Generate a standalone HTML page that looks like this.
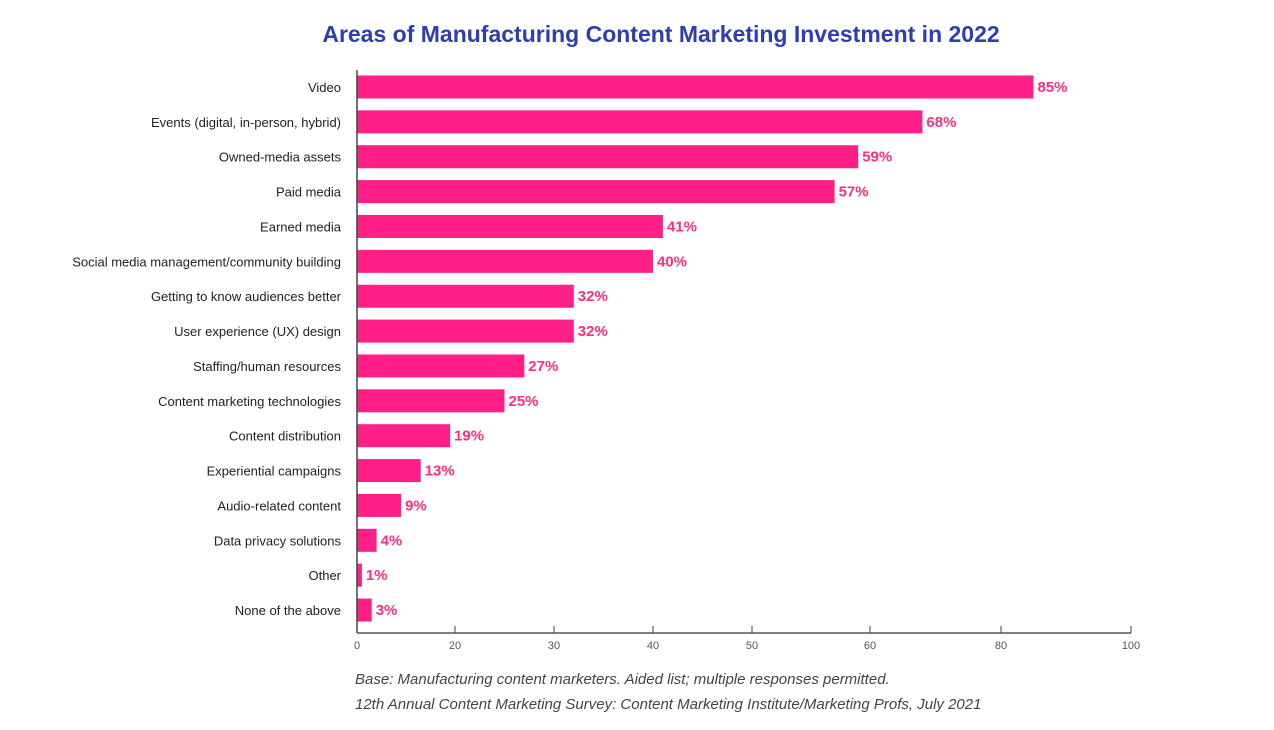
<!DOCTYPE html>
<html><head><meta charset="utf-8"><style>
body{margin:0;width:1274px;height:725px;background:#fff;overflow:hidden;font-family:"Liberation Sans",sans-serif}
</style></head><body>
<svg width="1274" height="725">
<text x="661" y="42" text-anchor="middle" font-size="23" font-weight="bold" fill="#2b3eb3">Areas of Manufacturing Content Marketing Investment in 2022</text>
<g id="bars"></g>
<g id="axis"></g>
<text x="355" y="684" font-size="15" font-style="italic" fill="#444">Base: Manufacturing content marketers. Aided list; multiple responses permitted.</text>
<text x="355" y="709" font-size="15" font-style="italic" fill="#444">12th Annual Content Marketing Survey: Content Marketing Institute/Marketing Profs, July 2021</text>
</svg>
<script>
const categories=["Video","Events (digital, in-person, hybrid)","Owned-media assets","Paid media","Earned media","Social media management/community building","Getting to know audiences better","User experience (UX) design","Staffing/human resources","Content marketing technologies","Content distribution","Experiential campaigns","Audio-related content","Data privacy solutions","Other","None of the above"];
const values=[85,68,59,57,41,40,32,32,27,25,19,13,9,4,1,3];
const tickLabels=[0,20,30,40,50,60,80,100];
const NS="http://www.w3.org/2000/svg";
// piecewise axis, as drawn in the source
const tickPx=[357,455,554,653,752,870,1001,1131];
function x(v){for(let i=0;i<tickLabels.length-1;i++){if(v<=tickLabels[i+1]){const t=(v-tickLabels[i])/(tickLabels[i+1]-tickLabels[i]);return tickPx[i]+t*(tickPx[i+1]-tickPx[i]);}}return tickPx[tickPx.length-1];}
function y(i){return 87+i*34.87;}
function mk(tag,attrs,parent){const e=document.createElementNS(NS,tag);for(const k in attrs)e.setAttribute(k,attrs[k]);parent.appendChild(e);return e;}
const bars=document.getElementById('bars'),axis=document.getElementById('axis');
categories.forEach((c,i)=>{
 const cy=y(i);
 const l=mk('text',{x:341,y:cy+5,'text-anchor':'end','font-size':13,fill:'#222'},bars);l.textContent=c;
 
 
 const r=mk('rect',{x:357,y:cy-11.5,width:x(values[i])-357,height:23,fill:'#ff1f86'},bars);
 
 
 const v=mk('text',{x:x(values[i])+4,y:cy+5,'font-size':15,'font-weight':'bold',fill:'#ff2d7e'},bars);v.textContent=values[i]+'%';
 
 
});
const yl=mk('line',{x1:357,y1:70,x2:357,y2:633,stroke:'#444','stroke-width':1.5},axis);


const xl=mk('line',{x1:357,y1:633,x2:1131,y2:633,stroke:'#555','stroke-width':1.5},axis);


tickLabels.forEach(t=>{
 const tk=mk('line',{x1:x(t),y1:626,x2:x(t),y2:633,stroke:'#444'},axis);
 
 
 const tl=mk('text',{x:x(t),y:649,'text-anchor':'middle','font-size':11,fill:'#555'},axis);tl.textContent=t;
 
 
});
</script>
</body></html>
